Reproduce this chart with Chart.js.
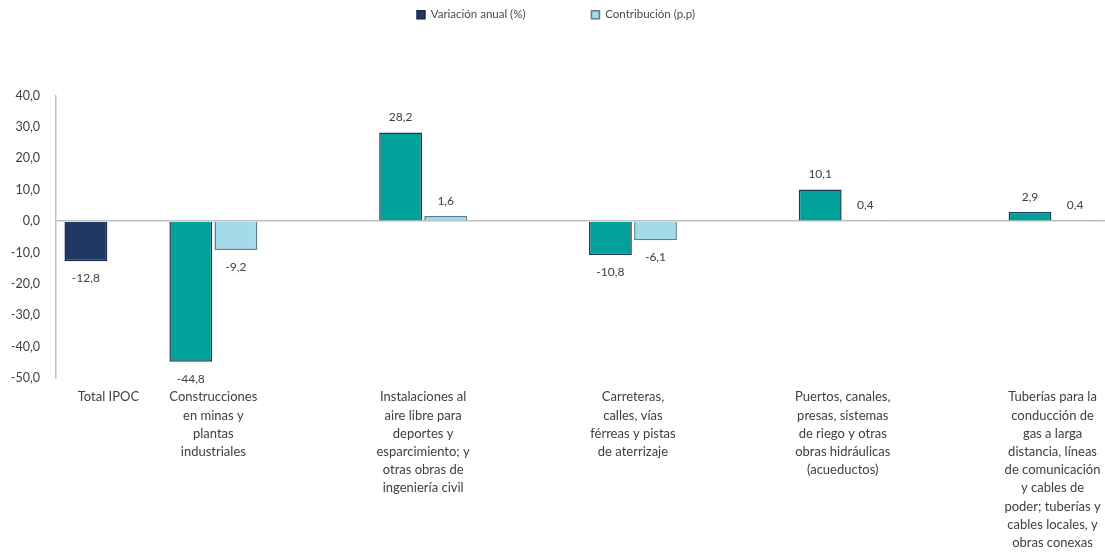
<!DOCTYPE html>
<html>
<head>
<meta charset="utf-8">
<script src="https://cdn.jsdelivr.net/npm/chart.js@4"></script>
<style>
  html, body { margin: 0; padding: 0; background: #ffffff; }
  #wrap { width: 1105px; height: 556px; }
</style>
</head>
<body>
<div id="wrap"><canvas id="c" width="1105" height="556"></canvas></div>
<script>
const categories = [
  'Total IPOC',
  ['Construcciones', 'en minas y', 'plantas', 'industriales'],
  '',
  ['Instalaciones al', 'aire libre para', 'deportes y', 'esparcimiento; y', 'otras obras de', 'ingeniería civil'],
  '',
  ['Carreteras,', 'calles, vías', 'férreas y pistas', 'de aterrizaje'],
  '',
  ['Puertos, canales,', 'presas, sistemas', 'de riego y otras', 'obras hidráulicas', '(acueductos)'],
  '',
  ['Tuberías para la', 'conducción de', 'gas a larga', 'distancia, líneas', 'de comunicación', 'y cables de', 'poder; tuberías y', 'cables locales, y', 'obras conexas']
];
const variacionAnual = [-12.8, -44.8, null, 28.2, null, -10.8, null, 10.1, null, 2.9];
const contribucion = [null, -9.2, null, 1.6, null, -6.1, null, 0.4, null, 0.4];
const yTicks = [40, 30, 20, 10, 0, -10, -20, -30, -40, -50];

const NAVY = '#1f3864';
const TEAL = '#00a19a';
const LIGHT = '#a3dbea';
const FONT = 'Lato, "Open Sans", sans-serif';
const fmt = v => v.toFixed(1).replace('.', ',');

const valueLabels = {
  id: 'valueLabels',
  afterDatasetsDraw(chart) {
    const ctx = chart.ctx;
    ctx.save();
    ctx.font = '12px ' + FONT;
    ctx.fillStyle = '#404040';
    ctx.textAlign = 'center';
    ctx.textBaseline = 'middle';
    chart.data.datasets.forEach((ds, di) => {
      const meta = chart.getDatasetMeta(di);
      meta.data.forEach((bar, i) => {
        const v = ds.data[i];
        if (v === null || v === undefined) return;
        const y = v >= 0 ? bar.y - 15 : bar.y + 17;
        ctx.fillText(fmt(v), bar.x, y);
      });
    });
    ctx.restore();
  }
};

const legendSpacer = {
  id: 'legendSpacer',
  beforeInit(chart) {
    const orig = chart.legend.fit;
    chart.legend.fit = function () {
      orig.bind(chart.legend)();
      this.height += 65;
    };
  }
};

new Chart(document.getElementById('c'), {
  type: 'bar',
  data: {
    labels: categories,
    datasets: [
      {
        label: 'Variación anual (%)',
        data: variacionAnual,
        backgroundColor: variacionAnual.map((v, i) => i === 0 ? NAVY : TEAL),
        borderColor: variacionAnual.map((v, i) => i === 0 ? '#1a2a48' : '#1f3a5a'),
        borderWidth: 1.5,
        categoryPercentage: 0.86,
        barPercentage: 0.95
      },
      {
        label: 'Contribución (p.p)',
        data: contribucion,
        backgroundColor: LIGHT,
        borderColor: '#5d7f8c',
        borderWidth: 1.5,
        categoryPercentage: 0.86,
        barPercentage: 0.95
      }
    ]
  },
  options: {
    responsive: false,
    animation: false,
    layout: { padding: { top: -57, right: 0, left: 7, bottom: 2 } },
    plugins: {
      legend: {
        position: 'top',
        labels: {
          boxWidth: 8,
          boxHeight: 8,
          padding: 66,
          color: '#4a4a4a',
          font: { size: 11.5, family: FONT }
        }
      },
      tooltip: { enabled: false }
    },
    scales: {
      x: {
        grid: { display: false },
        border: { display: false },
        afterFit(scale) { scale.paddingRight = 0; scale.paddingLeft = 0; },
        ticks: {
          color: '#404040',
          font: { size: 13, family: FONT, lineHeight: 1.4 },
          maxRotation: 0,
          autoSkip: false,
          padding: 2
        }
      },
      y: {
        min: -50,
        max: 40,
        afterBuildTicks(axis) { axis.ticks = yTicks.map(v => ({ value: v })); },
        afterFit(scale) { scale.width = 49; },
        border: { display: true, color: '#bfbfbf', width: 1.5 },
        grid: {
          drawTicks: false,
          color: ctx => (ctx.tick && ctx.tick.value === 0) ? '#c0c0c0' : 'rgba(0,0,0,0)',
          lineWidth: 1.5
        },
        ticks: {
          color: '#404040',
          font: { size: 12.5, family: FONT },
          padding: 16,
          callback: v => fmt(v)
        }
      }
    }
  },
  plugins: [valueLabels, legendSpacer]
});
</script>
</body>
</html>
